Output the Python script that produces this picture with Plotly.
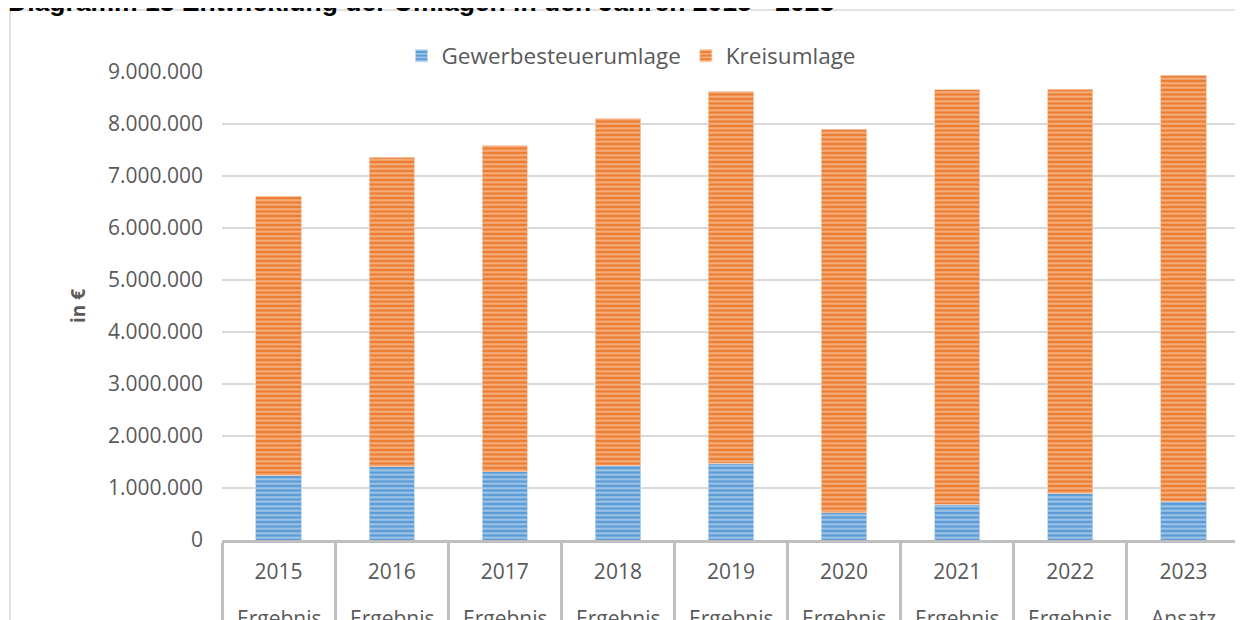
import plotly.graph_objects as go

years = ["2015", "2016", "2017", "2018", "2019", "2020", "2021", "2022", "2023"]
phases = ["Ergebnis", "Ergebnis", "Ergebnis", "Ergebnis", "Ergebnis", "Ergebnis", "Ergebnis", "Ergebnis", "Ansatz"]
gewerbesteuerumlage = [1250000, 1410000, 1310000, 1440000, 1480000, 525000, 690000, 900000, 750000]
kreisumlage = [5360000, 5950000, 6270000, 6660000, 7140000, 7375000, 7970000, 7770000, 8190000]
y_ticks = [0, 1000000, 2000000, 3000000, 4000000, 5000000, 6000000, 7000000, 8000000, 9000000]

FONT = "Open Sans"
GREY = "#595959"

# the page body has an 8px margin, so figure pixel = page pixel - 8
OFF = 8
W, H = 1243 - OFF, 620 - OFF
ML, MT = 222 - OFF, 72 - OFF
PLOT_R, PLOT_B = 1240 - OFF, 540 - OFF
MR, MB = W - PLOT_R, H - PLOT_B
PW, PH = W - ML - MR, H - MT - MB


def px_x(p):  # page pixel -> paper x
    return (p - OFF - ML) / PW


def px_y(p):  # page pixel -> paper y
    return (PLOT_B - (p - OFF)) / PH


fig = go.Figure()
fig.add_trace(go.Bar(
    name="Gewerbesteuerumlage", x=years, y=gewerbesteuerumlage,
    marker=dict(color="#5B9BD5", line=dict(color="#BDD7EE", width=0.8),
                pattern=dict(shape="-", fgcolor="#EAF2FA", size=4.5, solidity=0.45)),
))
fig.add_trace(go.Bar(
    name="Kreisumlage", x=years, y=kreisumlage,
    marker=dict(color="#ED7D31", line=dict(color="#F8CBAD", width=0.8),
                pattern=dict(shape="-", fgcolor="#FDE6D5", size=4.5, solidity=0.45)),
))

# second row of category labels
for i, ph in enumerate(phases):
    fig.add_annotation(x=i, xref="x", y=px_y(617.5), yref="paper", text=ph,
                       showarrow=False, xanchor="center", yanchor="middle",
                       font=dict(family=FONT, size=21, color=GREY))

# title (cut off at the top)
fig.add_annotation(x=px_x(6), xref="paper", y=px_y(2), yref="paper",
                   text="Diagramm 13 Entwicklung der Umlagen in den Jahren 2015 - 2023",
                   showarrow=False, xanchor="left", yanchor="middle",
                   font=dict(family="Liberation Sans", size=26.5, color="#000000", weight="bold"))

# chart frame
fig.add_shape(type="rect", xref="paper", yref="paper",
              x0=px_x(10), x1=px_x(1270), y0=px_y(650), y1=px_y(10),
              line=dict(color="#D9D9D9", width=1.5), fillcolor="rgba(0,0,0,0)", layer="below")

fig.update_layout(
    width=W, height=H,
    margin=dict(l=ML, r=MR, t=MT, b=MB, autoexpand=False),
    barmode="stack", bargap=0.6,
    paper_bgcolor="white", plot_bgcolor="white",
    separators=",.",
    font=dict(family=FONT, size=21, color=GREY),
    legend=dict(orientation="h", x=px_x(631), y=px_y(56), xanchor="center", yanchor="middle",
                font=dict(family=FONT, size=22.5, color=GREY), bgcolor="rgba(0,0,0,0)",
                traceorder="normal", itemwidth=30),
    xaxis=dict(type="category", showline=True, linecolor="#BFBFBF", linewidth=3,
               ticks="outside", tickson="boundaries", ticklen=80, tickwidth=3, tickcolor="#BFBFBF",
               ticklabelstandoff=11, showgrid=False,
               tickfont=dict(family=FONT, size=21, color=GREY)),
    yaxis=dict(range=[0, 9000000], tickvals=y_ticks, tickformat=",.0f",
               showgrid=True, gridcolor="#D9D9D9", gridwidth=1.5, zeroline=False,
               showline=False, ticks="", ticklabelstandoff=18,
               tickfont=dict(family=FONT, size=21, color=GREY),
               title=dict(text="in €", standoff=17,
                          font=dict(family=FONT, size=19, color=GREY, weight="bold"))),
)

fig.write_html("out.html")
